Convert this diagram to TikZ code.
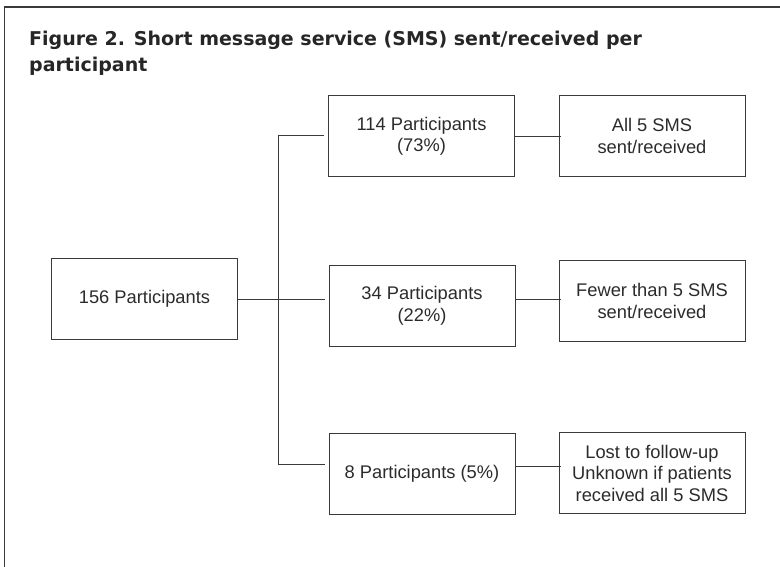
\documentclass[tikz,border=0pt]{standalone}
\usepackage{fontspec}
\setmainfont{Liberation Sans}
\newfontfamily\titlefont{DejaVu Sans}
\usetikzlibrary{positioning}

\definecolor{linegray}{HTML}{3A3A3A}
\definecolor{textgray}{HTML}{2B2B2B}

\tikzset{
  box/.style={draw=linegray, line width=1pt, minimum width=186pt, minimum height=81pt,
    inner sep=2pt, align=center, text=textgray,
    font=\fontsize{18.3}{21.5}\selectfont},
  link/.style={draw=linegray, line width=1pt}
}

\begin{document}
\begin{tikzpicture}[x=1pt,y=-1pt]
\useasboundingbox (0,0) rectangle (780,567);
\clip (0,0) rectangle (780,567);

% frame and heading
\draw [draw=linegray, line width=1.2pt] (4.5,7) rectangle (800,600);
\node [anchor=base west, align=left, inner sep=0pt, text=black!85,
       font=\titlefont\bfseries\fontsize{19}{26}\selectfont] (title) at (29,71.7)
  {Figure 2. Short message service (SMS) sent/received per\\participant};

% boxes
\node [box] (start) at (144.5,299.2) {156 Participants};

\node [box] (grp114) at (421.5,136.5) {114 Participants\\(73\%)};
\node [box] (grp34) at (422,305.8) {34 Participants\\(22\%)};
\node [box] (grp8) at (422,474) {8 Participants (5\%)};

\node [box] (out114) at (652,136) {All 5 SMS\\sent/received};
\node [box] (out34) at (652,300.8) {Fewer than 5 SMS\\sent/received};
\node [box] (out8) at (652,473) {Lost to follow-up\\Unknown if patients\\received all 5 SMS};

% bracket
\coordinate (top) at (278,136);
\coordinate (bot) at (278,464);
\draw [link] (top) -- (bot);
\draw [link] (start.east) -- ([xshift=-4pt]start.east -| grp34.west);
\draw [link] (top) -- ([xshift=-4pt]top -| grp114.west);
\draw [link] (bot) -- ([xshift=-4pt]bot -| grp8.west);

% outcomes
\draw [link] (grp114.east) -- ([xshift=2pt]grp114.east -| out114.west);
\draw [link] (start.east -| grp34.east) -- ([xshift=2pt]start.east -| out34.west);
\draw [link] ([yshift=7.3pt]grp8.east) -- ([yshift=7.3pt,xshift=2pt]grp8.east -| out8.west);
\end{tikzpicture}
\end{document}
